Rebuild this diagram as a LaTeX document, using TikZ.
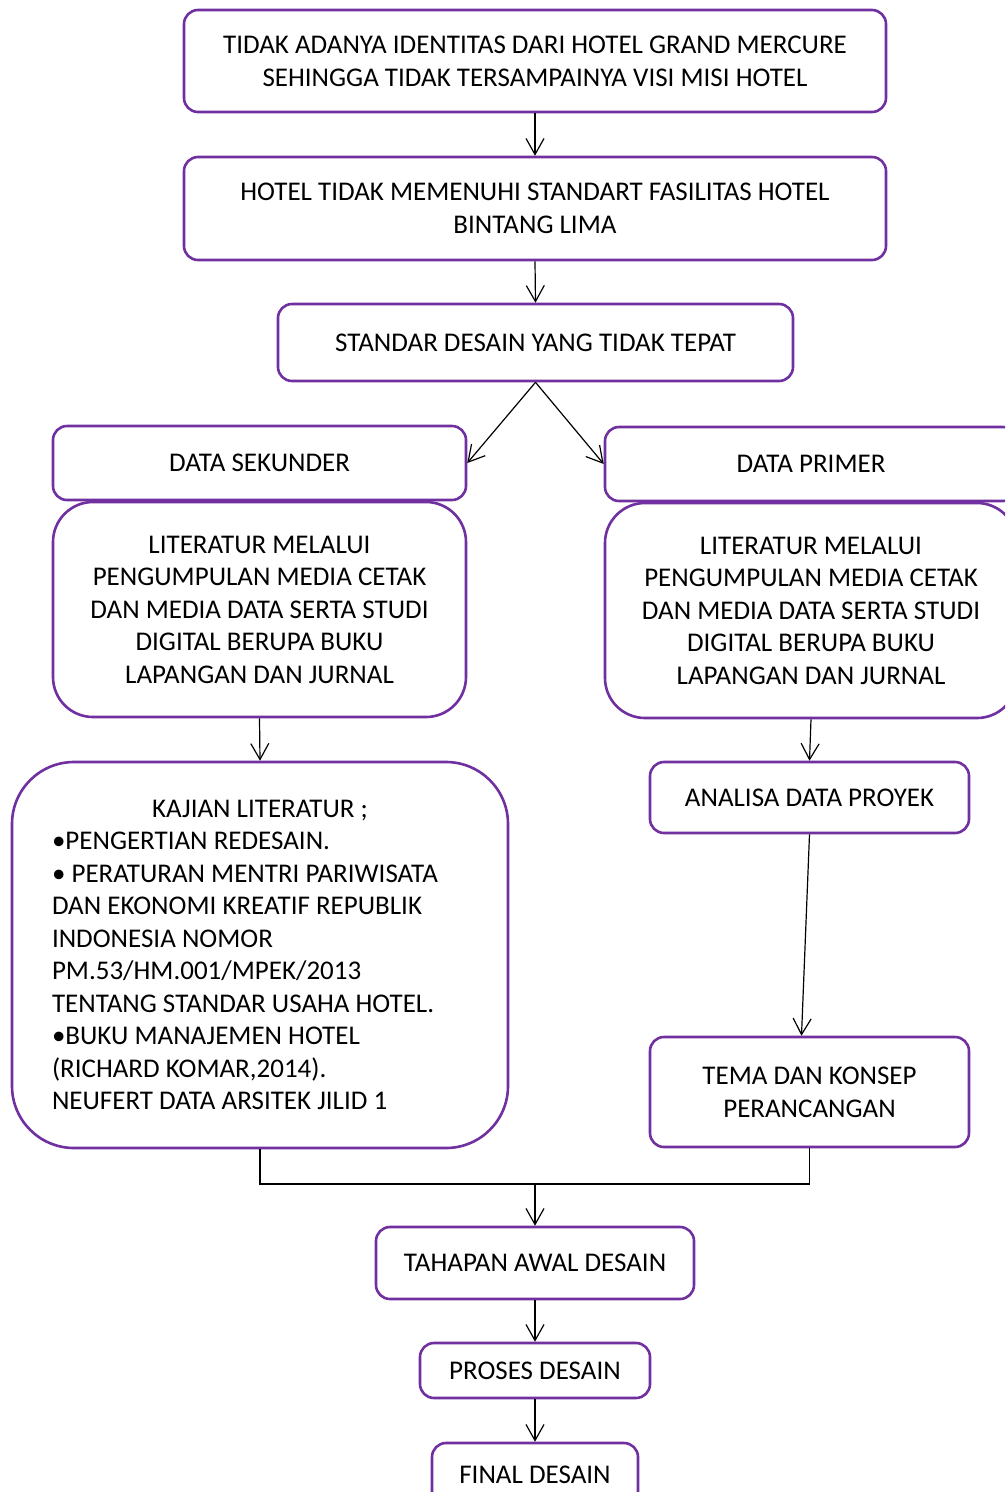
\documentclass[tikz,border=0pt]{standalone}
\usepackage{fontspec}
\setmainfont{Carlito}
\usetikzlibrary{arrows.meta}
\definecolor{boxpurple}{HTML}{7030A0}
\begin{document}
\begin{tikzpicture}[x=1pt,y=-1pt,
 box/.style={draw=boxpurple, line width=2.6pt, fill=white, rounded corners=14pt, inner sep=0pt, align=center, font=\fontsize{27}{33}\selectfont},
 bigbox/.style={box, rounded corners=40pt, font=\fontsize{27}{32.5}\selectfont},
 conn/.style={draw=black, line width=1.2pt, -{Straight Barb[length=16pt,width=18pt,line width=1.2pt]}},
 plain/.style={draw=black, line width=1.2pt}]
\useasboundingbox (0,0) rectangle (1005,1492);
\clip (0,0) rectangle (1005,1492);

\node[box, minimum width=702pt, minimum height=102pt] (b1) at (535,61)
  {\rule{0pt}{0pt}\raisebox{-2pt}{TIDAK ADANYA IDENTITAS DARI HOTEL GRAND MERCURE}\\\raisebox{-2pt}{SEHINGGA TIDAK TERSAMPAINYA VISI MISI HOTEL}};
\node[box, minimum width=702pt, minimum height=103pt] (b2) at (535,208.5)
  {HOTEL TIDAK MEMENUHI STANDART FASILITAS HOTEL\\BINTANG LIMA};
\node[box, minimum width=515pt, minimum height=77pt] (b3) at (535.5,342.5)
  {STANDAR DESAIN YANG TIDAK TEPAT};
\node[box, minimum width=413pt, minimum height=74pt] (sek) at (259.5,463)
  {DATA SEKUNDER};
\node[bigbox, minimum width=413pt, minimum height=215pt] (litl) at (259.5,609.5)
  {LITERATUR MELALUI\\PENGUMPULAN MEDIA CETAK\\DAN MEDIA DATA SERTA STUDI\\DIGITAL BERUPA BUKU\\LAPANGAN DAN JURNAL};
\node[box, minimum width=412pt, minimum height=74pt] (prim) at (811,464)
  {DATA PRIMER};
\node[bigbox, minimum width=412pt, minimum height=215pt] (litr) at (811,610.5)
  {LITERATUR MELALUI\\PENGUMPULAN MEDIA CETAK\\DAN MEDIA DATA SERTA STUDI\\DIGITAL BERUPA BUKU\\LAPANGAN DAN JURNAL};
\node[bigbox, rounded corners=62pt, minimum width=496pt, minimum height=386pt, text width=416pt, align=flush left] (kaj) at (260,955)
  {\makebox[\linewidth][c]{KAJIAN LITERATUR ;}\\
   •PENGERTIAN REDESAIN.\\
   • PERATURAN MENTRI PARIWISATA\\
   DAN EKONOMI KREATIF REPUBLIK\\
   INDONESIA NOMOR\\
   PM.53/HM.001/MPEK/2013\\
   TENTANG STANDAR USAHA HOTEL.\\
   •BUKU MANAJEMEN HOTEL\\
   (RICHARD KOMAR,2014).\\
   NEUFERT DATA ARSITEK JILID 1};
\node[box, minimum width=319pt, minimum height=71pt] (ana) at (809.5,797.5)
  {ANALISA DATA PROYEK};
\node[box, minimum width=319pt, minimum height=110pt] (tema) at (809.5,1092)
  {TEMA DAN KONSEP\\PERANCANGAN};
\node[box, minimum width=318pt, minimum height=72pt] (tah) at (535,1263)
  {TAHAPAN AWAL DESAIN};
\node[box, minimum width=230pt, minimum height=55pt] (pro) at (535,1370.5)
  {\raisebox{-4pt}{PROSES DESAIN}};
\node[box, minimum width=206pt, minimum height=64pt] (fin) at (535,1475)
  {FINAL DESAIN};

\coordinate (j) at (535,1184);
\draw[conn] (b1.south) -- (b2.north);
\draw[conn] (b2.south) -- (b3.north);
\draw[conn] (b3.south) -- (sek.east);
\draw[conn] (b3.south) -- (prim.west);
\draw[conn] (litl.south) -- (kaj.north);
\draw[conn] (litr.south) -- (ana.north);
\draw[conn] (ana.south) -- ([xshift=-8pt]tema.north);
\draw[plain] (kaj.south) |- (j) -| (tema.south);
\draw[conn] (j) -- (tah.north);
\draw[conn] (tah.south) -- (pro.north);
\draw[conn] (pro.south) -- (fin.north);
\end{tikzpicture}
\end{document}
